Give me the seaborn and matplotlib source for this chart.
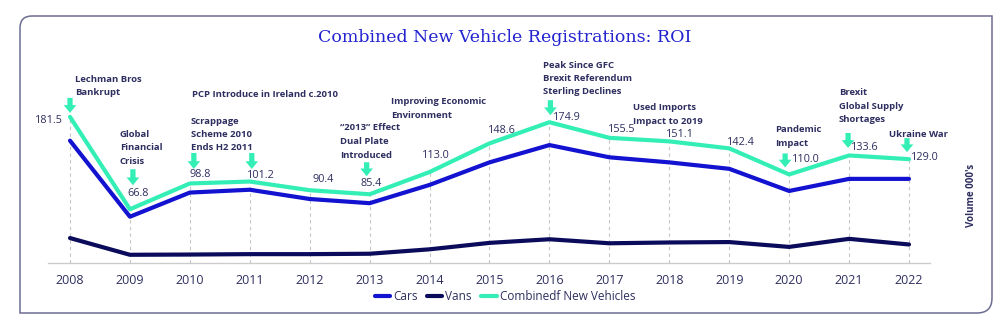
import numpy as np
import pandas as pd
import matplotlib
matplotlib.use("Agg")
import matplotlib.pyplot as plt
import seaborn as sns
from matplotlib.lines import Line2D
from matplotlib.path import Path
from matplotlib.patches import PathPatch
from matplotlib.transforms import offset_copy

# ---------------- data ----------------
years = [2008, 2009, 2010, 2011, 2012, 2013, 2014, 2015, 2016, 2017, 2018, 2019, 2020, 2021, 2022]
cars = [152.0, 57.5, 87.5, 91.0, 79.5, 74.3, 97.0, 125.0, 146.5, 131.3, 125.0, 117.0, 89.5, 104.5, 104.5]
vans = [31.0, 10.2, 10.5, 11.0, 11.0, 11.5, 17.0, 25.0, 29.5, 24.5, 25.5, 26.0, 20.0, 30.0, 23.0]
combined = [181.5, 66.8, 98.8, 101.2, 90.4, 85.4, 113.0, 148.6, 174.9, 155.5, 151.1, 142.4, 110.0, 133.6, 129.0]
series_names = ["Cars", "Vans", "Combinedf New Vehicles"]
title = "Combined New Vehicle Registrations: ROI"
y_label = "Volume 000's"

# event annotations: (text, x px, y px of first line centre)
events = [
    ("Lechman Bros\nBankrupt", 75, 78),
    ("Global\nFinancial\nCrisis", 120, 133),
    ("PCP Introduce in Ireland c.2010", 192, 93),
    ("Scrappage\nScheme 2010\nEnds H2 2011", 191, 120),
    ("\u201c2013\u201d Effect\nDual Plate\nIntroduced", 340, 127),
    ("Improving Economic\nEnvironment", 391, 101),
    ("Peak Since GFC\nBrexit Referendum\nSterling Declines", 543, 64),
    ("Used Imports\nImpact to 2019", 633, 107),
    ("Pandemic\nImpact", 775, 129),
    ("Brexit\nGlobal Supply\nShortages", 839, 92),
    ("Ukraine War", 889, 133),
]
LINE_STEP = 13.5  # pixel spacing between lines of event text
# value label offsets in pixels (dx, dy up) relative to combined point
label_offsets = [(-7, -4), (8, 16), (10, 8.5), (11, 6.5), (13, 11), (2, 11), (6, 17),
                 (12, 13), (17, 5), (12, 8), (11, 7), (12, 6), (17, 15), (16, 7.5), (16, 2)]
# arrows: year index -> (dx, tip dy, tail dy)
arrows = {0: (0, 4, 19), 1: (3, 24, 40), 2: (4, 14.5, 30.5), 3: (2, 12.5, 28.5),
          5: (-3, 18, 32), 8: (1, 7, 22), 12: (-4, 7, 21), 13: (-1, 7.5, 22.5), 14: (-2, 7, 21)}

# ---------------- style ----------------
sns.set_theme(style="white")
plt.rcParams['font.family'] = ['Open Sans', 'DejaVu Sans']
TXT = "#2e2e60"
C_CARS = "#1212d0"
C_VANS = "#0b0b5c"
C_COMB = "#33efb5"

df = pd.DataFrame({
    "Year": years * 3,
    "Value": cars + vans + combined,
    "Series": [series_names[0]] * len(years) + [series_names[1]] * len(years) + [series_names[2]] * len(years),
})
palette = {series_names[0]: C_CARS, series_names[1]: C_VANS, series_names[2]: C_COMB}

fig = plt.figure(figsize=(10, 3.25), dpi=100)
ax = fig.add_axes([0.048, (325 - 263) / 325, 0.882, (263 - 40) / 325])

ax.vlines(years, 0, combined, colors="#c4c4c4", linestyles=(0, (3, 3)), lw=0.8, zorder=0)
sns.lineplot(data=df, x="Year", y="Value", hue="Series", palette=palette,
             linewidth=3, ax=ax, legend=False)

ax.set_xlim(2008 - 22 / 59.93, 2022 + 21 / 59.93)
ax.set_ylim(0, 223 / 0.805)
ax.set_xticks(years)
ax.set_xticklabels([str(y) for y in years], fontsize=9, color=TXT)
ax.tick_params(axis="x", length=0, pad=8)
ax.set_yticks([])
ax.set_xlabel("")
ax.set_ylabel("")
for s in ["top", "right", "left"]:
    ax.spines[s].set_visible(False)
ax.spines["bottom"].set_color("#cccccc")
ax.spines["bottom"].set_linewidth(1)

# value labels
for yr, v, (dx, dy) in zip(years, combined, label_offsets):
    ha = "right" if dx < 0 else "center"
    ax.annotate(f"{v:.1f}", xy=(yr, v), xytext=(dx, dy), textcoords="offset pixels",
                ha=ha, va="center", fontsize=7.8, color=TXT)

# arrows
inv = ax.transData.inverted()
for i, (dx, tip, tail) in arrows.items():
    t_tip = offset_copy(ax.transData, fig=fig, x=dx, y=tip, units="dots")
    t_tail = offset_copy(ax.transData, fig=fig, x=dx, y=tail, units="dots")
    p_tip = t_tip.transform((years[i], combined[i]))
    p_tail = t_tail.transform((years[i], combined[i]))
    ax.annotate("", xy=inv.transform(p_tip), xytext=inv.transform(p_tail),
                arrowprops=dict(arrowstyle="simple,head_length=0.4,head_width=0.65,tail_width=0.27",
                                mutation_scale=14, color=C_COMB, lw=0, shrinkA=0, shrinkB=0))

# event texts: each line placed separately for exact spacing
for txt, px, py in events:
    for k, line in enumerate(txt.split("\n")):
        fig.text(px / 1000, 1 - (py + k * LINE_STEP) / 325, line, ha="left",
                 va="center_baseline", fontsize=6.8, color=TXT, fontweight="bold")

# title
fig.text(0.505, 1 - 38 / 325, title, ha="center", va="center", fontsize=12.5,
         color="#2323d0", family="DejaVu Serif")

# y label on right
fig.text(0.972, 1 - 195 / 325, y_label, rotation=90, ha="center", va="center",
         fontsize=7, color=TXT, fontweight="bold")

# legend
handles = [Line2D([0], [0], color=palette[n], lw=3) for n in series_names]
fig.legend(handles, series_names, loc="center", bbox_to_anchor=(0.505, 1 - 297 / 325),
           ncol=3, frameon=False, fontsize=8.5, handlelength=1.3, handletextpad=0.25,
           columnspacing=0.8, labelcolor=TXT)

# rounded frame
def P(x, y):
    return (x / 1000, 1 - y / 325)
L, T, R, B, r1, r2 = 20, 16, 992, 313, 12, 15
verts = [P(L, T + r1), P(L, B), P(R - r2, B), P(R, B), P(R, B - r2), P(R, T),
         P(L + r1, T), P(L, T), P(L, T + r1), P(L, T + r1)]
codes = [Path.MOVETO, Path.LINETO, Path.LINETO, Path.CURVE3, Path.CURVE3, Path.LINETO,
         Path.LINETO, Path.CURVE3, Path.CURVE3, Path.CLOSEPOLY]
fig.patches.append(PathPatch(Path(verts, codes), transform=fig.transFigure, fill=False,
                             edgecolor="#6d6d92", lw=1.1))

fig.savefig("out.png", dpi=100)
